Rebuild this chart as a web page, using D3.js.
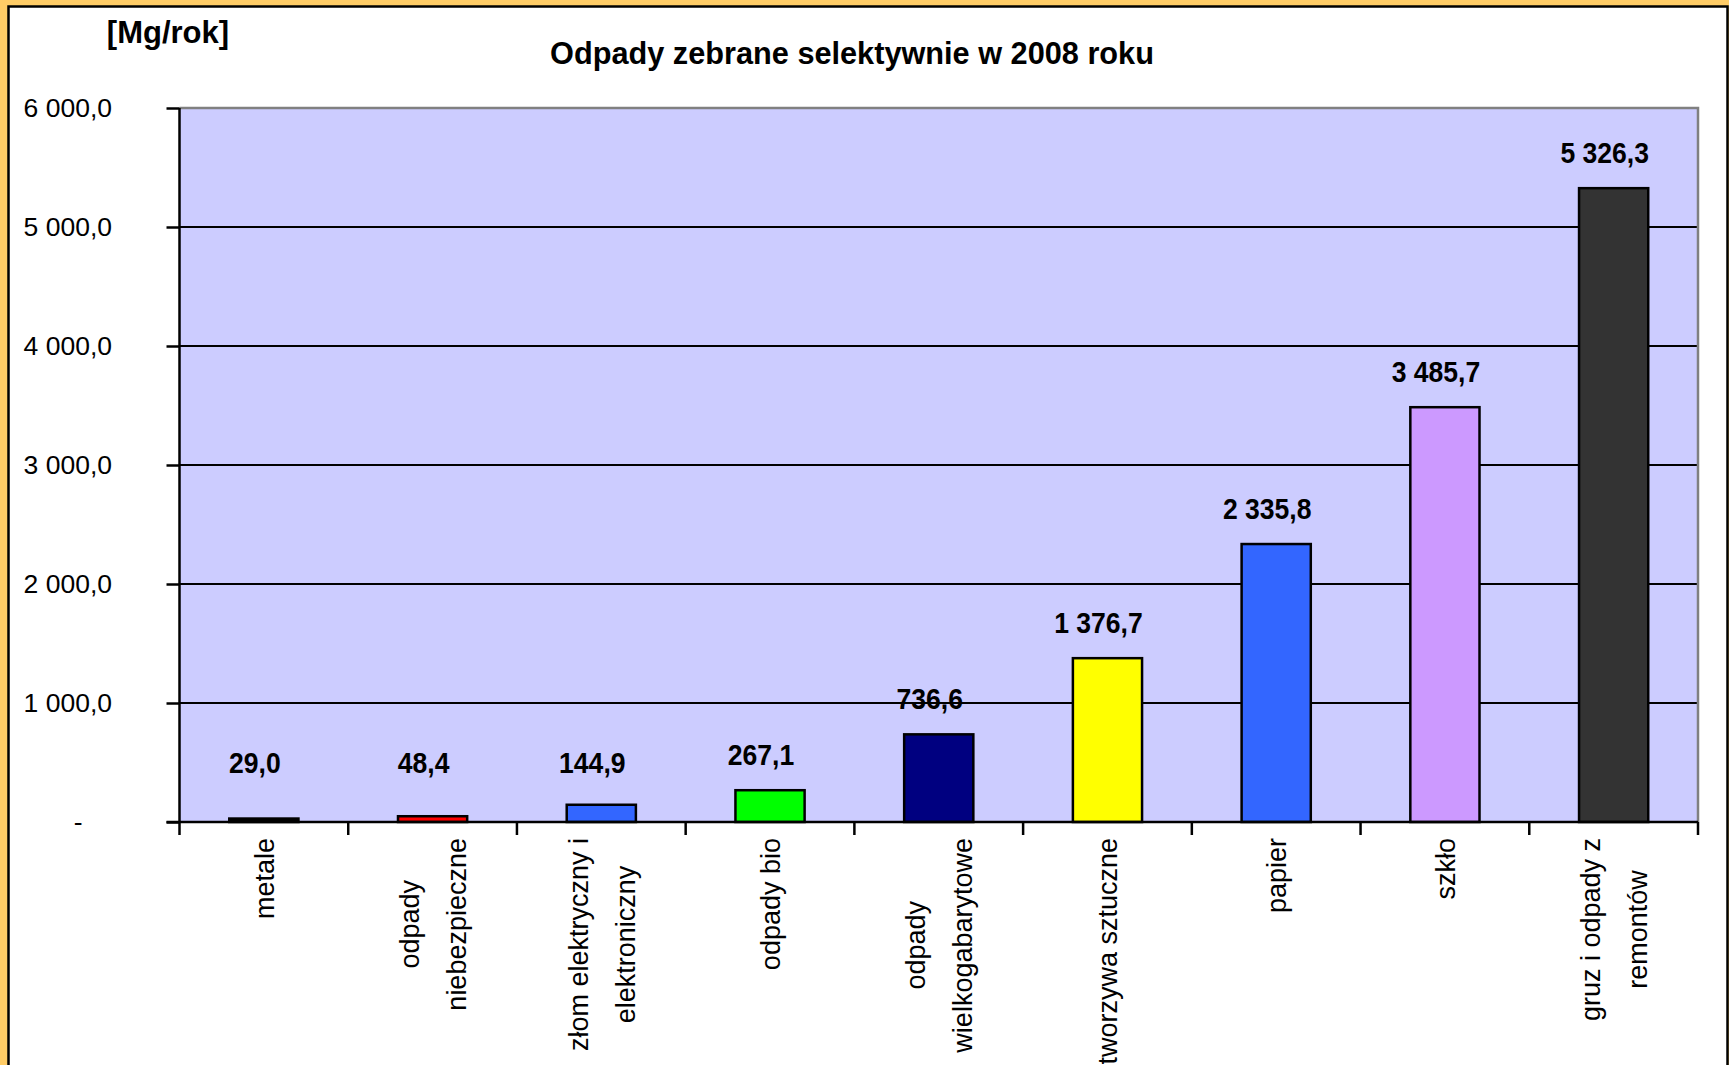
<!DOCTYPE html>
<html>
<head>
<meta charset="utf-8">
<script src="https://cdn.jsdelivr.net/npm/d3@7"></script>
<style>
  html, body { margin: 0; padding: 0; background: #FFCC66; }
  svg { display: block; }
  text { font-family: "Liberation Sans", Arial, sans-serif; fill: #000; }
</style>
</head>
<body>
<svg id="chart" width="1729" height="1065"></svg>
<script>
// ---- data ----
const categories = [
  ["metale"],
  ["odpady", "niebezpieczne"],
  ["złom elektryczny i", "elektroniczny"],
  ["odpady bio"],
  ["odpady", "wielkogabarytowe"],
  ["tworzywa sztuczne"],
  ["papier"],
  ["szkło"],
  ["gruz i odpady z", "remontów"]
];
const values = [29.0, 48.4, 144.9, 267.1, 736.6, 1376.7, 2335.8, 3485.7, 5326.3];
const barColors = ["#000000", "#FF0000", "#3366FF", "#00FF00", "#000080", "#FFFF00", "#3366FF", "#CC99FF", "#333333"];
const yTicks = [0, 1000, 2000, 3000, 4000, 5000, 6000];
const titleText = "Odpady zebrane selektywnie w 2008 roku";
const unitText = "[Mg/rok]";

// ---- layout ----
const W = 1729, H = 1065;
const plot = { left: 179.5, right: 1698, top: 108, bottom: 822 };

const svg = d3.select("#chart");
const keys = categories.map((c, i) => "c" + i);

const locale = d3.formatLocale({ decimal: ",", thousands: " ", grouping: [3], currency: ["", ""] });
const fmt = locale.format(",.1f");

const x = d3.scaleBand().domain(keys).range([plot.left, plot.right]).padding(0);
const y = d3.scaleLinear().domain([0, 6000]).range([plot.bottom, plot.top]);

// outer frame
svg.append("rect").attr("x", 0).attr("y", 0).attr("width", W).attr("height", H).attr("fill", "#FFCC66");
svg.append("rect").attr("x", 8.5).attr("y", 6.5).attr("width", 1719).attr("height", 1100)
  .attr("fill", "#FFFFFF").attr("stroke", "#000").attr("stroke-width", 2.5);

// plot background
svg.append("rect").attr("x", plot.left).attr("y", plot.top)
  .attr("width", plot.right - plot.left).attr("height", plot.bottom - plot.top)
  .attr("fill", "#CCCCFF");

// gridlines
svg.append("g").selectAll("line").data(yTicks.filter(t => t > 0 && t < 6000)).join("line")
  .attr("x1", plot.left).attr("x2", plot.right)
  .attr("y1", d => y(d)).attr("y2", d => y(d))
  .attr("stroke", "#000").attr("stroke-width", 2);

// plot border top/right (gray)
svg.append("path")
  .attr("d", `M${plot.left},${plot.top}H${plot.right}V${plot.bottom}`)
  .attr("fill", "none").attr("stroke", "#808080").attr("stroke-width", 2.5);

// bars
const barW = x.bandwidth() * 0.41;
svg.append("g").selectAll("rect").data(values).join("rect")
  .attr("x", (d, i) => x(keys[i]) + (x.bandwidth() - barW) / 2)
  .attr("y", d => y(d))
  .attr("width", barW)
  .attr("height", d => y(0) - y(d))
  .attr("fill", (d, i) => barColors[i])
  .attr("stroke", "#000").attr("stroke-width", 2.5);

// y axis
const yAxis = d3.axisLeft(y).tickValues(yTicks).tickSize(13).tickPadding(54.5)
  .tickFormat(d => d === 0 ? "-\u00A0\u00A0\u00A0\u00A0" : fmt(d));
const ga = svg.append("g").attr("transform", `translate(${plot.left},0)`).call(yAxis);
ga.select(".domain").remove();
ga.selectAll(".tick line").attr("stroke", "#000").attr("stroke-width", 2.5);
ga.selectAll(".tick text").attr("font-size", 26.5).attr("font-family", '"Liberation Sans", Arial, sans-serif').attr("fill", "#000");
svg.append("line").attr("x1", plot.left).attr("x2", plot.left).attr("y1", plot.top).attr("y2", plot.bottom)
  .attr("stroke", "#000").attr("stroke-width", 2.5);

// x axis
const xAxis = d3.axisBottom(x).tickSize(0).tickFormat("");
const gx = svg.append("g").attr("transform", `translate(0,${plot.bottom})`).call(xAxis);
gx.select(".domain").remove();
svg.append("line").attr("x1", plot.left - 13).attr("x2", plot.right).attr("y1", plot.bottom).attr("y2", plot.bottom)
  .attr("stroke", "#000").attr("stroke-width", 2.5);
const bounds = keys.map(k => x(k)).concat([plot.right]);
svg.append("g").selectAll("line").data(bounds).join("line")
  .attr("x1", d => d).attr("x2", d => d)
  .attr("y1", plot.bottom).attr("y2", plot.bottom + 13)
  .attr("stroke", "#000").attr("stroke-width", 2.5);

// category labels (rotated, multi-line, centered lines, block top-anchored)
const lineGap = 47;
categories.forEach((lines, i) => {
  const cx = x(keys[i]) + x.bandwidth() / 2;
  const g = svg.append("g").attr("transform", `translate(${cx},${plot.bottom + 16}) rotate(-90)`);
  const texts = lines.map((t, j) => g.append("text")
    .attr("font-size", 27)
    .attr("text-anchor", "middle")
    .attr("dy", "0.36em")
    .attr("y", (j - (lines.length - 1) / 2) * lineGap)
    .text(t));
  const maxW = d3.max(texts, t => t.node().getComputedTextLength());
  texts.forEach(t => t.attr("x", -maxW / 2));
});

// value labels
svg.append("g").selectAll("text").data(values).join("text")
  .attr("transform", (d, i) => {
    const cx = x(keys[i]) + x.bandwidth() / 2 - 9;
    const cy = Math.min(y(d) - 36, y(0) - 60);
    return `translate(${cx},${cy}) scale(0.9,1)`;
  })
  .attr("text-anchor", "middle")
  .attr("dy", "0.36em")
  .attr("font-size", 29.5)
  .attr("font-weight", "bold")
  .text(d => fmt(d));

// title
svg.append("text").attr("x", 852).attr("y", 64)
  .attr("text-anchor", "middle").attr("font-size", 30.7).attr("font-weight", "bold")
  .text(titleText);

// unit
svg.append("text").attr("x", 168).attr("y", 43)
  .attr("text-anchor", "middle").attr("font-size", 31).attr("font-weight", "bold")
  .text(unitText);
</script>
</body>
</html>
